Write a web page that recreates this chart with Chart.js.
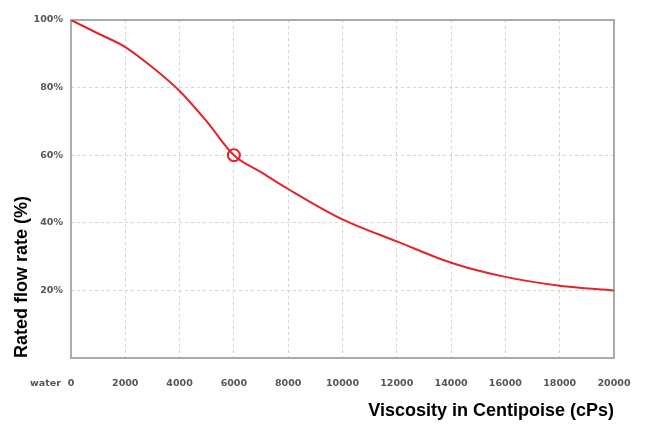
<!DOCTYPE html>
<html>
<head>
<meta charset="utf-8">
<script src="https://cdn.jsdelivr.net/npm/chart.js@4"></script>
<style>
  html, body { margin: 0; padding: 0; background: #fff; }
  #chart { display: block; }
</style>
</head>
<body>
<canvas id="chart" width="646" height="426"></canvas>
<script>
// Flow rate vs viscosity curve
const viscosity = [0, 1000, 2000, 3000, 4000, 5000, 6000, 7000, 8000, 10000, 12000, 14000, 16000, 18000, 20000];
const flowRate = [100, 96, 92, 86, 79, 70, 60, 55, 50, 41, 34.5, 28.2, 24, 21.4, 20];

// highlighted operating point
const markerX = [6000];
const markerY = [60];

const xTicks = [0, 2000, 4000, 6000, 8000, 10000, 12000, 14000, 16000, 18000, 20000];
const yTicks = [0, 20, 40, 60, 80, 100];

const RED = "#e3242b";
const NONE = "rgba(0,0,0,0)";
// invisible tick marks push the labels away from the axis
const X_TICK_LEN = 14;
const X_TICK_PAD = 5.5;
const titleFont = { family: "'Liberation Sans', Arial, sans-serif", size: 18, weight: "bold" };
const tickFont = { family: "'DejaVu Sans', Verdana, sans-serif", size: 9.5, weight: "bold" };

// "water" sits left of the 0 tick on the x axis
const waterLabel = {
  id: "waterLabel",
  afterDraw(chart) {
    const ctx = chart.ctx;
    const x = chart.scales.x;
    ctx.save();
    ctx.font = "bold 9.5px 'DejaVu Sans', Verdana, sans-serif";
    ctx.fillStyle = "#555";
    ctx.textAlign = "right";
    ctx.textBaseline = "middle";
    ctx.fillText("water", x.getPixelForValue(0) - 10, x.top + X_TICK_LEN + X_TICK_PAD + 6);
    ctx.restore();
  },
};

// solid frame around the plot area
const frame = {
  id: "frame",
  beforeDatasetsDraw(chart) {
    const { ctx, chartArea: a } = chart;
    ctx.save();
    ctx.strokeStyle = "#ababab";
    ctx.lineWidth = 2;
    ctx.strokeRect(a.left, a.top, a.right - a.left, a.bottom - a.top);
    ctx.restore();
  },
};

new Chart(document.getElementById("chart"), {
  type: "scatter",
  data: {
    datasets: [
      {
        data: viscosity.map((v, i) => ({ x: v, y: flowRate[i] })),
        showLine: true,
        borderColor: RED,
        borderWidth: 2,
        pointRadius: 0,
        cubicInterpolationMode: "monotone",
      },
      {
        data: markerX.map((v, i) => ({ x: v, y: markerY[i] })),
        pointRadius: 6,
        pointBorderWidth: 2,
        pointBorderColor: RED,
        pointBackgroundColor: NONE,
      },
    ],
  },
  options: {
    responsive: false,
    animation: false,
    layout: { padding: { top: 20, right: 32, left: 11, bottom: 4 } },
    plugins: { legend: { display: false }, tooltip: { enabled: false } },
    scales: {
      x: {
        type: "linear",
        min: 0,
        max: 20000,
        afterBuildTicks: (s) => { s.ticks = xTicks.map((v) => ({ value: v })); },
        grid: { color: "#d4d4d4", drawTicks: true, tickLength: X_TICK_LEN, tickColor: NONE },
        border: { display: false, dash: [3, 3] },
        ticks: { font: tickFont, color: "#555", padding: X_TICK_PAD, maxRotation: 0, callback: (v) => String(v) },
        title: { display: true, text: "Viscosity in Centipoise (cPs)", align: "end", font: titleFont, color: "#000", padding: { top: 6, bottom: 0 } },
      },
      y: {
        min: 0,
        max: 100,
        afterBuildTicks: (s) => { s.ticks = yTicks.map((v) => ({ value: v })); },
        grid: { color: "#d4d4d4", drawTicks: true, tickLength: 7, tickColor: NONE },
        border: { display: false, dash: [3, 3] },
        ticks: { font: tickFont, color: "#555", padding: 1, callback: (v) => (v === 0 ? "" : v + "%") },
        title: { display: true, text: "Rated flow rate (%)", align: "start", font: titleFont, color: "#000", padding: 0 },
      },
    },
  },
  plugins: [frame, waterLabel],
});
</script>
</body>
</html>
